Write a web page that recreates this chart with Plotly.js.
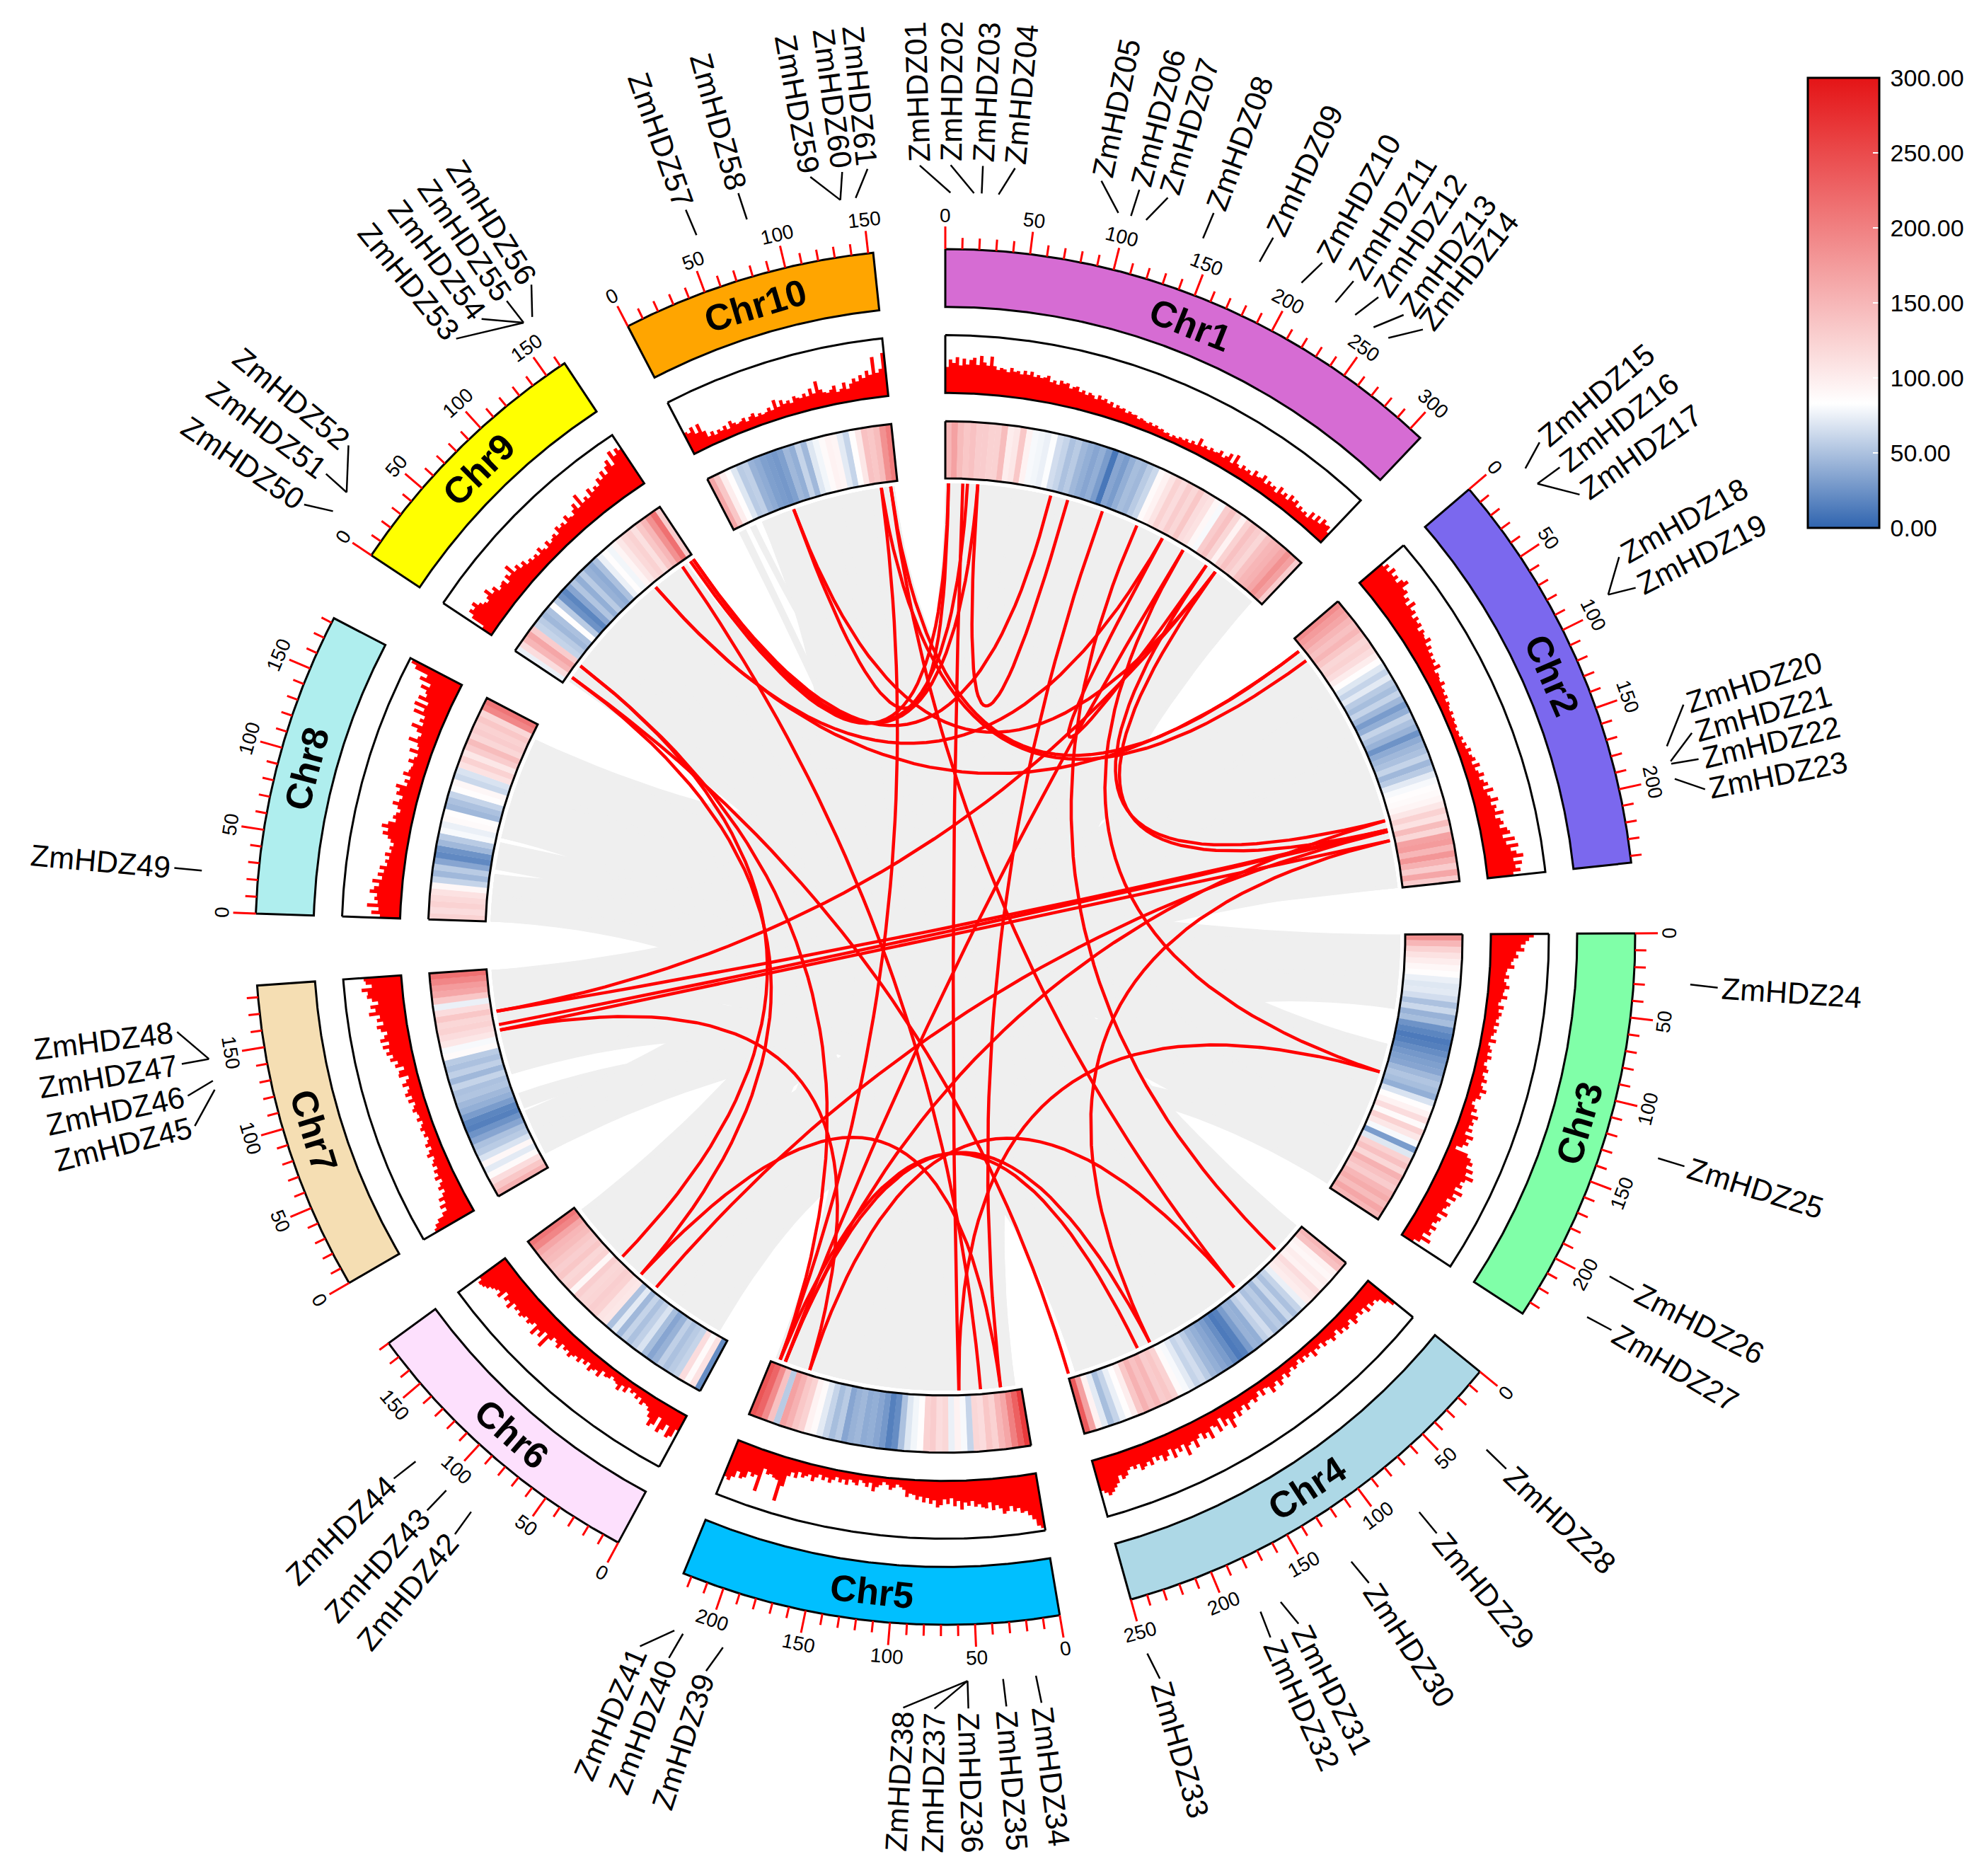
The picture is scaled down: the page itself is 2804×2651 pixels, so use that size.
<!DOCTYPE html>
<html><head><meta charset="utf-8"><script src="https://cdn.plot.ly/plotly-3.0.1.min.js"></script>
<style>html,body{margin:0;padding:0;background:#fff}</style></head><body><div id="c" style="width:2804px;height:2651px"></div>
<script>
const chrNames=["Chr1","Chr2","Chr3","Chr4","Chr5","Chr6","Chr7","Chr8","Chr9","Chr10"];
const chrLen=[308,244,238,250,225,180,187,183,163,153];
const chrColors=["#d66cd3","#7b68ee","#80ffa8","#add8e6","#00bfff","#fde0fd","#f5deb3","#afeeee","#ffff00","#ffa500"];
const chrStartDeg=[0,49.4,89.7,129.2,170.45,208.3,239.8,271.95,303.7,332.6];
const chrEndDeg=[43.5,83.8,123.2,164.4,202.3,233.8,265.95,297.6,326.5,354];

const hist1=[.45,.58,.52,.62,.48,.6,.5,.58,.62,.5,.66,.55,.5,.66,.5,.44,.48,.46,.42,.5,.44,.46,.41,.48,.42,.48,.4,.44,.4,.42,.46,.36,.4,.34,.42,.38,.4,.32,.36,.38,.3,.34,.28,.33,.3,.25,.33,.27,.3,.24,.28,.2,.26,.22,.24,.18,.22,.19,.2,.15,.18,.16,.14,.17,.13,.16,.12,.14,.1,.12,.08,.12,.1,.14,.12,.16,.12,.18,.14,.28,.16,.2,.16,.22,.18,.2,.26,.17,.22,.3,.16,.34,.2,.16,.24,.18,.22,.16,.28,.2,.22,.3,.18,.26,.2,.24,.16,.3,.2,.26,.18,.3,.22,.28,.18,.24,.18,.22,.16,.3,.2,.32,.22,.34,.28,.3,.2];
const hist2=[.5,.58,.5,.62,.52,.58,.5,.6,.66,.52,.55,.45,.5,.4,.54,.42,.46,.36,.44,.38,.42,.32,.4,.36,.34,.42,.3,.36,.28,.32,.26,.3,.24,.33,.2,.24,.22,.2,.26,.18,.2,.16,.2,.14,.18,.15,.13,.17,.12,.15,.12,.14,.1,.13,.11,.16,.12,.18,.14,.22,.16,.2,.24,.16,.28,.18,.22,.3,.2,.26,.32,.22,.38,.26,.3,.42,.28,.36,.32,.46,.3,.38,.42,.34,.46,.5,.36,.56,.4,.6,.46,.55,.66,.48,.62,.5,.58,.45];
const hist3=[.74,.66,.6,.52,.58,.44,.48,.4,.36,.42,.3,.28,.34,.26,.3,.36,.28,.26,.34,.24,.2,.3,.22,.28,.24,.2,.26,.18,.24,.2,.16,.26,.14,.18,.22,.16,.24,.18,.14,.2,.24,.16,.2,.26,.18,.22,.3,.2,.24,.16,.12,.18,.24,.16,.3,.22,.26,.2,.28,.18,.34,.24,.3,.22,.12,.36,.44,.5,.42,.56,.46,.62,.5,.44,.5,.4,.56,.42,.5,.36,.46,.42,.38,.5,.34,.44,.4,.34,.45,.36,.42,.3,.48,.32,.22];
const hist4=[.6,.48,.36,.3,.34,.26,.36,.24,.3,.22,.28,.34,.2,.26,.3,.22,.28,.16,.22,.28,.2,.18,.24,.14,.2,.16,.26,.14,.18,.12,.2,.1,.16,.2,.13,.18,.24,.14,.2,.28,.16,.22,.3,.16,.14,.24,.12,.2,.26,.18,.2,.3,.18,.24,.32,.2,.3,.44,.24,.34,.16,.38,.26,.22,.42,.28,.36,.24,.3,.44,.3,.34,.5,.28,.38,.3,.44,.26,.36,.42,.3,.36,.28,.4,.32,.38,.42,.3,.36,.3,.34,.42,.46,.38,.5,.56,.62,.66,.6,.55];
const hist5=[.95,.9,.78,.7,.62,.64,.55,.6,.5,.58,.62,.52,.46,.54,.4,.5,.48,.42,.46,.36,.44,.38,.5,.35,.44,.3,.4,.32,.42,.46,.34,.4,.3,.38,.28,.34,.26,.24,.3,.18,.14,.1,.16,.2,.12,.08,.14,.18,.26,.12,.2,.14,.1,.2,.16,.12,.22,.14,.2,.12,.18,.24,.16,.22,.14,.2,.28,.18,.22,.26,.18,.3,.22,.3,.5,.78,.42,.4,.36,.38,.3,.72,.45,.5,.44,.56,.6,.5,.62,.7,.66];
const hist6=[.3,.45,.5,.3,.42,.5,.25,.42,.48,.35,.26,.2,.18,.24,.14,.2,.12,.16,.1,.22,.14,.26,.18,.16,.12,.18,.2,.14,.28,.2,.24,.3,.18,.26,.2,.3,.24,.28,.34,.26,.3,.24,.36,.3,.26,.34,.55,.3,.44,.36,.5,.32,.38,.42,.35,.4,.44,.38,.42,.36,.5,.4,.45,.34,.5,.42,.46,.5,.56,.6,.62,.55];
const hist7=[.75,.7,.62,.5,.4,.48,.36,.44,.34,.28,.36,.3,.24,.34,.26,.3,.22,.28,.24,.2,.3,.24,.18,.26,.2,.16,.22,.18,.24,.2,.16,.24,.18,.2,.26,.22,.18,.28,.2,.3,.24,.2,.3,.22,.16,.32,.3,.2,.34,.28,.4,.34,.44,.38,.48,.36,.5,.42,.36,.46,.52,.4,.5,.44,.62,.5,.58,.44,.54,.62,.6,.7,.52,.62,.65];
const hist8=[.35,.5,.38,.58,.4,.46,.42,.55,.48,.4,.52,.36,.44,.34,.42,.3,.34,.28,.36,.26,.3,.24,.3,.36,.46,.38,.5,.4,.28,.34,.3,.24,.3,.4,.3,.26,.38,.34,.42,.24,.3,.22,.36,.28,.26,.24,.34,.26,.22,.38,.24,.28,.46,.32,.28,.38,.5,.32,.4,.34,.56,.4,.6,.38,.58,.46,.5,.62,.48,.7,.6,.85,.95];
const hist9=[.2,.45,.55,.5,.58,.48,.42,.38,.44,.54,.4,.46,.34,.38,.4,.3,.42,.36,.52,.34,.4,.3,.36,.26,.3,.24,.28,.22,.32,.24,.2,.3,.22,.26,.3,.24,.36,.3,.34,.28,.4,.32,.3,.38,.46,.34,.56,.36,.42,.36,.5,.4,.46,.42,.54,.48,.6,.5,.62,.7,.56,.8,.68,.78,.72];
const hist10=[.4,.36,.44,.3,.44,.28,.16,.22,.14,.2,.16,.22,.14,.26,.2,.16,.18,.22,.14,.2,.24,.16,.2,.16,.18,.24,.18,.34,.2,.3,.22,.26,.2,.3,.26,.24,.3,.24,.36,.26,.46,.3,.24,.22,.26,.32,.2,.24,.34,.22,.3,.38,.32,.42,.36,.48,.4,.7,.42,.48,.75];

const heat1=[150,170,145,135,140,130,130,125,125,145,100,105,135,95,80,78,75,82,65,60,50,55,45,40,35,40,30,10,35,30,40,48,45,55,62,88,95,108,125,115,130,120,135,115,110,90,80,130,140,120,95,125,140,130,120,140,150,155,165,185,170,130];
const heat2=[190,175,165,150,140,150,135,120,125,115,100,85,70,60,72,55,48,60,45,30,40,60,50,42,25,38,45,50,60,45,55,72,80,85,88,92,105,125,110,145,120,170,175,150,180,155,130,165,130];
const heat3=[185,150,125,110,100,90,85,75,70,72,65,50,62,42,48,25,18,12,15,22,28,32,35,45,52,48,40,68,85,95,115,88,125,105,80,30,70,125,140,120,155,140,130,150,160,145,165,150];
const heat4=[150,140,95,90,100,95,115,105,100,75,60,50,62,45,55,50,65,58,40,42,30,15,12,22,30,35,40,45,55,65,60,72,80,88,125,135,130,150,140,155,135,100,85,75,60,48,72,95,170,235];
const heat5=[265,230,200,165,150,125,135,115,120,60,80,95,75,120,115,130,125,85,78,70,50,22,15,28,35,40,38,45,42,35,55,48,60,72,88,95,125,135,155,170,55,140,190,225,240];
const heat6=[22,110,88,115,60,55,50,58,42,35,48,68,58,50,60,45,72,50,105,108,125,128,122,120,128,90,125,120,135,128,135,145,150,165,195,210];
const heat7=[155,135,115,88,72,90,68,55,50,35,25,15,18,30,40,45,52,50,60,45,58,50,55,88,80,105,115,125,120,135,115,75,135,165,175,195,215];
const heat8=[125,115,125,118,110,90,60,45,55,35,20,25,45,55,80,75,88,85,45,50,60,85,90,62,68,110,125,105,130,145,120,130,125,135,120,195,210];
const heat9=[75,115,150,165,130,60,55,45,50,85,55,25,18,35,52,40,55,42,38,50,75,85,78,92,105,118,125,112,135,150,185,215,130];
const heat10=[165,135,100,85,70,55,58,42,38,32,30,28,32,45,40,60,45,70,78,88,95,92,72,60,85,105,140,135,145,185,205];

const geneId=["01","02","03","04","05","06","07","08","09","10","11","12","13","14","15","16","17","18","19","20","21","22","23","24","25","26","27","28","29","30","31","32","33","34","35","36","37","38","39","40","41","42","43","44","45","46","47","48","49","50","51","52","53","54","55","56","57","58","59","60","61"];
const geneChr=[1,1,1,1,1,1,1,1,1,1,1,1,1,1,2,2,2,2,2,2,2,2,2,3,3,3,3,4,4,4,4,4,4,5,5,5,5,5,5,5,5,6,6,6,7,7,7,7,8,9,9,9,9,9,9,9,10,10,10,10,10];
const geneMb=[2.8,15.6,19.8,29,94.9,102,110.5,143,176.3,201.8,223.1,235.8,247.9,257.8,11.3,21.9,21.9,93.8,93.8,182.7,191.1,192.5,201,28.2,125,194.9,220.3,30.8,80.9,126.8,171.2,183.4,249.3,18.2,36.1,55.4,55.4,55.4,189.9,212.8,217.8,78.6,96.4,119.3,131.3,136.3,148.5,148.5,22.6,8.5,21.3,21.3,156.6,156.6,156.6,162.3,56.7,85.7,138.1,138.1,146.6];
const geneLabelDeg=[358.1,.4,2.8,5.2,11.7,14.6,16.8,20.4,25.2,29.3,32,34.2,36.5,38.3,50.4,52.8,55.3,60.8,63.4,72.8,75,77,79.3,94.1,107.6,117.5,120.9,133.8,140.8,147,153,155.3,164,172.9,175.5,178.3,180.8,183.1,197.9,200.8,203.1,219.1,221.8,225.2,255.5,257.8,260.2,262.6,274.8,303.8,306.6,309.3,320.6,323,325.3,327.5,340.3,344.4,349.9,352.3,354.2];

const extraAnchors={"9a":[9,119.8],"9b":[9,150.2],"9c":[9,158.8],"9d":[9,162]};
const redLinks=[["9c","01"],["9d","03"],["9d","04"],["57","01"],["04","07"],["02","36"],["9b","35"],["9a","15"],["9a","10"],["57","14"],["59","16"],["61","15"],["59","41"],["05","9d"],["10","13"],["08","34"],["09","28"],["11","25"],["13","20"],["14","21"],["14","47"],["22","46"],["21","47"],["23","45"],["23","31"],["22","42"],["20","40"],["25","36"],["11","40"],["51","44"],["50","43"],["50","33"],["51","41"],["45","39"],["40","31"],["41","32"],["39","29"],["43","34"],["61","29"]];

const ribbons=[
[1,0,30,5,170,200],[1,30,65,5,130,170],[1,65,100,9,40,80],[1,100,125,5,90,130],[1,130,170,9,80,120],[1,170,210,5,50,90],[1,210,255,9,120,155],[1,255,300,5,5,50],
[2,10,50,7,125,155],[2,50,90,10,60,105],[2,90,130,7,90,125],[2,130,170,10,105,150],[2,170,205,7,12,55],[2,205,244,7,155,186],
[3,0,35,8,120,170],[3,35,67,8,76,120],[3,99,130,8,47,72],[3,130,175,6,130,175],[3,175,210,8,0,43],[3,210,236,6,90,130],
[4,2,45,5,200,222],[4,45,90,10,26,60],[4,90,130,9,4,40],[4,130,170,7,57,72],[4,170,205,6,50,90],[4,205,243,6,10,50],
[5,5,50,1,170,210],[5,50,90,2,50,90],[5,90,130,3,35,67],[5,130,170,8,76,120],[6,10,50,1,130,170],[6,50,90,2,130,170],[6,90,130,8,120,170],[6,130,175,1,65,100],
[7,12,55,3,130,175],[7,90,125,4,45,90],[7,125,155,1,210,255],[7,155,186,3,0,35],[8,0,43,2,205,244],[8,47,72,4,170,205],[8,76,120,1,255,300],[8,120,170,4,90,130],
[9,4,40,2,170,205],[9,40,80,3,175,210],[9,80,120,4,130,170],[9,120,155,2,10,50],[10,3,10,4,205,243],[10,14,20,3,210,236],[10,26,60,1,100,125],[10,60,105,4,2,45],[10,105,150,3,99,130],
[1,0,30,6,90,130],[1,255,300,7,12,55],[2,10,50,6,10,50],[2,205,244,9,40,80],[3,35,67,9,4,40],[4,2,45,8,0,43],[5,200,222,10,105,150],[6,130,175,3,130,175],[7,155,186,4,90,130],
[1,0,55,5,175,222],[1,62,120,5,120,168],[1,130,210,5,60,110],[1,218,300,5,5,52],[2,10,60,7,140,186],[2,66,120,7,90,132],[2,125,180,8,128,170],[2,186,244,8,76,120],
[3,0,35,7,34,55],[3,40,66,7,12,30],[3,100,135,9,66,120],[3,141,175,9,4,60],[3,180,205,10,108,150],[3,210,236,10,60,102],[4,2,58,9,110,155],[4,64,120,9,60,104],[4,125,185,8,24,43],[4,190,243,8,0,20],
[6,10,50,10,66,100],[6,55,90,10,26,60],[6,95,135,2,118,170],[6,140,175,2,60,112],[5,5,50,10,128,150],[5,56,100,10,100,122],[5,105,155,1,252,300],[5,160,215,1,200,246],
[7,125,155,4,132,200],[7,160,186,4,60,126],[8,76,122,3,196,236],[8,128,170,3,150,190],[9,4,40,1,72,120],[9,46,80,1,20,66],
[6,20,56,4,198,243],[6,60,90,4,150,192],[6,90,130,3,106,150],[6,135,170,3,99,102],[7,12,32,2,188,240],[7,36,55,2,130,182],[8,0,20,1,162,200],[8,24,43,1,120,156],[9,80,115,5,62,100],[9,120,155,5,20,56],[10,26,56,5,178,220],[10,60,90,5,130,172],[1,60,96,3,190,236],[1,102,130,3,140,184],[2,20,58,5,190,222],[2,64,100,5,150,184]
];

const CX=1336,CY=1324,YK=0.997,R={idO:975,idI:893,hO:853,hI:771,mO:731,mI:650,link:643};
const P=(deg,r)=>{const t=deg*Math.PI/180;return [CX+r*Math.sin(t),CY-YK*r*Math.cos(t)];};
const mbDeg=(c,mb)=>chrStartDeg[c]+(chrEndDeg[c]-chrStartDeg[c])*mb/chrLen[c];
const traces=[];
const poly=(xy,fill,line,w)=>traces.push({type:'scatter',mode:'lines',x:xy.map(p=>p[0]),y:xy.map(p=>p[1]),fill:fill?'toself':'none',fillcolor:fill||undefined,line:{color:line||'rgba(0,0,0,0)',width:w||0},hoverinfo:'skip',showlegend:false});
const arc=(a0,a1,r)=>{const n=Math.max(2,Math.ceil(Math.abs(a1-a0)/0.2));const o=[];for(let i=0;i<=n;i++)o.push(P(a0+(a1-a0)*i/n,r));return o;};
const band=(a0,a1,rO,rI)=>arc(a0,a1,rO).concat(arc(a1,a0,rI));
const closed=a=>a.concat([a[0]]);
const bez=(a,b)=>{const A=P(a,R.link),B=P(b,R.link);let d=((b-a)%360+360)%360;if(d>180)d=d-360;const mid=a+d/2,C=P(mid,25*Math.cos(d/2*Math.PI/180));
  const o=[];for(let i=0;i<=40;i++){const t=i/40,u=1-t;o.push([u*u*A[0]+2*u*t*C[0]+t*t*B[0],u*u*A[1]+2*u*t*C[1]+t*t*B[1]]);}return o;};

ribbons.forEach(r=>{const a0=mbDeg(r[0]-1,r[1]),a1=mbDeg(r[0]-1,r[2]),b0=mbDeg(r[3]-1,r[4]),b1=mbDeg(r[3]-1,r[5]);
  poly(arc(a0,a1,R.link).concat(bez(a1,b0)).concat(arc(b0,b1,R.link)).concat(bez(b1,a0)),'#efefef');});

const anchor=id=>{if(extraAnchors[id])return mbDeg(extraAnchors[id][0]-1,extraAnchors[id][1]);const i=geneId.indexOf(id);return mbDeg(geneChr[i]-1,geneMb[i]);};
redLinks.forEach(l=>{const b=bez(anchor(l[0]),anchor(l[1]));traces.push({type:'scatter',mode:'lines',x:b.map(p=>p[0]),y:b.map(p=>p[1]),line:{color:'#ff0000',width:4.5},hoverinfo:'skip',showlegend:false});});

const stops=[[0,[47,100,175]],[83,[255,255,255]],[300,[228,20,22]]];
const col=v=>{let s=stops[0],e=stops[1];if(v>83){s=stops[1];e=stops[2];}const f=Math.min(1,Math.max(0,(v-s[0])/(e[0]-s[0])));return 'rgb('+s[1].map((c,i)=>Math.round(c+(e[1][i]-c)*f)).join(',')+')';};

const hists=[hist1,hist2,hist3,hist4,hist5,hist6,hist7,hist8,hist9,hist10];
const heats=[heat1,heat2,heat3,heat4,heat5,heat6,heat7,heat8,heat9,heat10];
const ann=[];
chrNames.forEach((nm,c)=>{
  const a0=chrStartDeg[c],a1=chrEndDeg[c];
  const hv=heats[c],dh=(a1-a0)/hv.length;
  hv.forEach((v,i)=>poly(closed(band(a0+i*dh,Math.min(a1,a0+(i+1)*dh+0.03),R.mO,R.mI)),col(v)));
  poly(closed(band(a0,a1,R.mO,R.mI)),null,'#000',3);
  const hs=hists[c],ds=(a1-a0)/hs.length;let top=[];
  hs.forEach((v,i)=>{top=top.concat(arc(a0+i*ds,a0+(i+1)*ds,R.hI+v*(R.hO-R.hI)));});
  poly(closed(top.concat(arc(a1,a0,R.hI))),'#ff0000');
  poly(closed(band(a0,a1,R.hO,R.hI)),null,'#000',3);
  poly(closed(band(a0,a1,R.idO,R.idI)),chrColors[c],'#000',3);
  for(let mb=0;mb<=chrLen[c];mb+=10){const d=mbDeg(c,mb),maj=mb%50===0,e=P(d,R.idO+(maj?32:16)),s=P(d,R.idO);
    traces.push({type:'scatter',mode:'lines',x:[s[0],e[0]],y:[s[1],e[1]],line:{color:'#ff0000',width:3},hoverinfo:'skip',showlegend:false});
    if(maj){const t=P(d,R.idO+48);let rot=d<90?d:(d<270?d-180:d-360);ann.push({x:t[0],y:t[1],xref:'x',yref:'y',text:String(mb),showarrow:false,textangle:rot,xanchor:'center',yanchor:'middle',font:{size:28,color:'#000',family:'Liberation Sans'}});}
  }
  const m=(a0+a1)/2,t=P(m,(R.idO+R.idI)/2),rot=m<90?m:(m<270?m-180:m-360);
  ann.push({x:t[0],y:t[1],xref:'x',yref:'y',text:'<b>'+nm+'</b>',showarrow:false,textangle:rot,xanchor:'center',yanchor:'middle',font:{size:52,color:'#000',family:'Liberation Sans'}});
});

geneId.forEach((id,i)=>{const a=mbDeg(geneChr[i]-1,geneMb[i]),l0=geneLabelDeg[i],l=l0-0.33*Math.sin(l0*Math.PI/180),s=P(a,1055),e=P(l,1094),t=P(l,1199);
  traces.push({type:'scatter',mode:'lines',x:[s[0],e[0]],y:[s[1],e[1]],line:{color:'#000',width:2.5},hoverinfo:'skip',showlegend:false});
  const rot=(l<180||l>357)?((l>357?l-360:l)-90):(l-270);
  ann.push({x:t[0],y:t[1],xref:'x',yref:'y',text:'ZmHDZ'+id,showarrow:false,textangle:rot,xanchor:'center',yanchor:'middle',font:{size:43,color:'#000',family:'Liberation Sans'}});
});

const barTicks=[0,50,100,150,200,250,300];
traces.push({type:'scatter',mode:'markers',x:[null,null],y:[null,null],hoverinfo:'skip',showlegend:false,
 marker:{size:1,color:[0,300],cmin:0,cmax:300,colorscale:[[0,'rgb(47,100,175)'],[83/300,'rgb(255,255,255)'],[1,'rgb(228,20,22)']],showscale:true,
  colorbar:{x:2555/2804,xanchor:'left',y:1-110/2651,yanchor:'top',len:636,lenmode:'pixels',thickness:101,thicknessmode:'pixels',xpad:0,ypad:0,outlinecolor:'#000',outlinewidth:3,
   tickmode:'array',tickvals:barTicks,ticktext:barTicks.map(v=>'\u2009'+v.toFixed(2)),ticks:'inside',ticklen:10,tickwidth:2,tickcolor:'#fff',tickfont:{size:34,color:'#000',family:'Liberation Sans'}}}});

Plotly.newPlot('c',traces,{width:2804,height:2651,margin:{l:0,r:0,t:0,b:0},paper_bgcolor:'#fff',plot_bgcolor:'#fff',showlegend:false,
 xaxis:{range:[0,2804],visible:false,fixedrange:true},yaxis:{range:[2651,0],visible:false,fixedrange:true},annotations:ann},{staticPlot:true,displayModeBar:false});
</script></body></html>
